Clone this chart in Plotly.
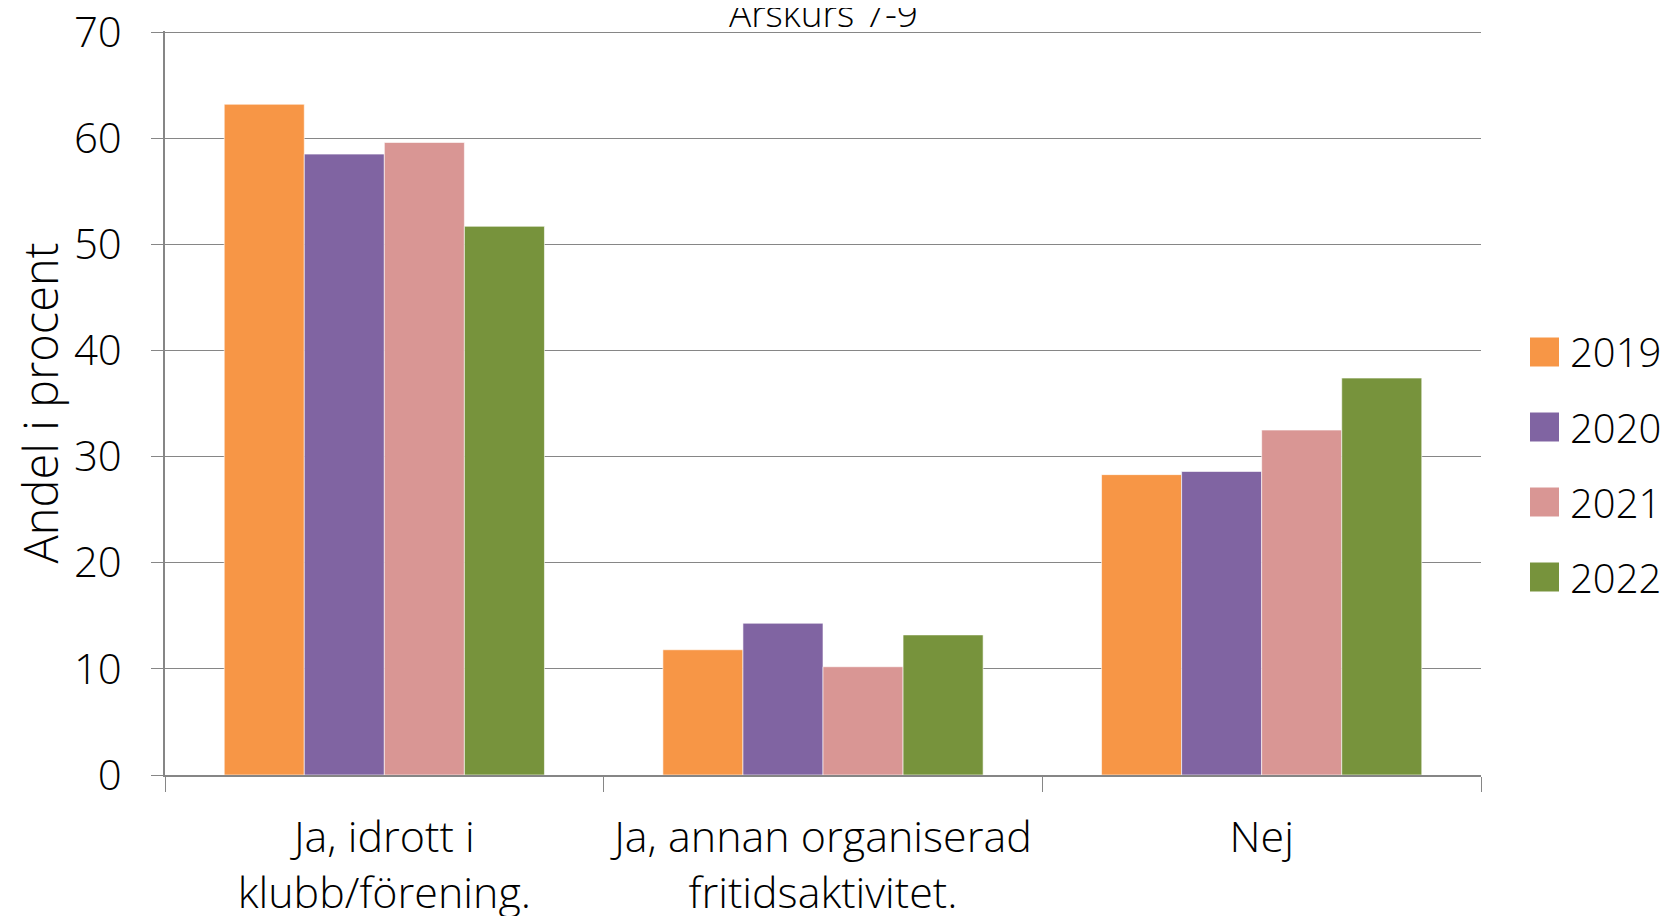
import plotly.graph_objects as go

categories = ["Ja, idrott i<br>klubb/förening.", "Ja, annan organiserad<br>fritidsaktivitet.", "Nej"]
years = ["2019", "2020", "2021", "2022"]
values_2019 = [63.2, 11.8, 28.3]
values_2020 = [58.5, 14.3, 28.6]
values_2021 = [59.6, 10.2, 32.5]
values_2022 = [51.7, 13.2, 37.4]

series = [values_2019, values_2020, values_2021, values_2022]
colors = ["#F79646", "#8064A2", "#D99694", "#77933C"]

FONT = "Open Sans"
# page body has an 8px margin, so the figure is 8px smaller than the window
W, H = 1663, 908
L, R, T, B = 157, 190, 23, 141
plot_w = W - L - R
plot_h = H - T - B

fig = go.Figure()

for year, vals, color in zip(years, series, colors):
    fig.add_trace(go.Bar(
        x=categories,
        y=vals,
        name=year,
        showlegend=False,
        marker=dict(color=color, line=dict(color="rgba(255,255,255,0.6)", width=1)),
    ))

# legend drawn by hand: plotly caps legend swatch sizes
sq = 29
for i, (year, color) in enumerate(zip(years, colors)):
    cy = 344 + i * 75  # pixel centre of the row
    x0 = (1522 - L) / plot_w
    x1 = (1522 + sq - L) / plot_w
    y0 = (H - B - cy - sq / 2) / plot_h
    y1 = (H - B - cy + sq / 2) / plot_h
    fig.add_shape(type="rect", xref="paper", yref="paper",
                  x0=x0, x1=x1, y0=y0, y1=y1,
                  fillcolor=color, line=dict(width=0))
    fig.add_annotation(text=year, xref="paper", yref="paper",
                       x=(1560 - L) / plot_w, y=(H - B - cy) / plot_h,
                       xanchor="left", yanchor="middle", showarrow=False,
                       font=dict(size=40))

fig.add_annotation(
    text="Årskurs 7-9",
    x=0.5, y=1, xref="paper", yref="paper",
    xanchor="center", yanchor="bottom",
    yshift=-9,
    showarrow=False,
    font=dict(size=37),
)

fig.update_layout(
    width=W,
    height=H,
    plot_bgcolor="white",
    paper_bgcolor="white",
    barmode="group",
    bargap=0.27,
    bargroupgap=0,
    margin=dict(l=L, r=R, t=T, b=B),
    font=dict(family=FONT, size=36, color="#000000", weight=300),
    showlegend=False,
)

fig.update_xaxes(
    type="category",
    automargin=False,
    tickson="boundaries",
    ticks="outside",
    ticklen=15,
    tickcolor="#868686",
    showline=True,
    linecolor="#868686",
    linewidth=1.5,
    showgrid=False,
    ticklabelstandoff=24,
    tickfont=dict(size=43),
)

fig.update_yaxes(
    range=[0, 70.1],
    dtick=10,
    automargin=False,
    ticklabeloverflow="allow",
    ticks="outside",
    ticklen=12,
    tickcolor="#868686",
    showline=True,
    linecolor="#868686",
    linewidth=1.5,
    showgrid=True,
    gridcolor="#868686",
    gridwidth=1.2,
    zeroline=False,
    ticklabelstandoff=21,
    tickfont=dict(size=42),
    title=dict(text="Andel i procent", font=dict(size=47), standoff=21),
)

fig.write_html("out.html")
